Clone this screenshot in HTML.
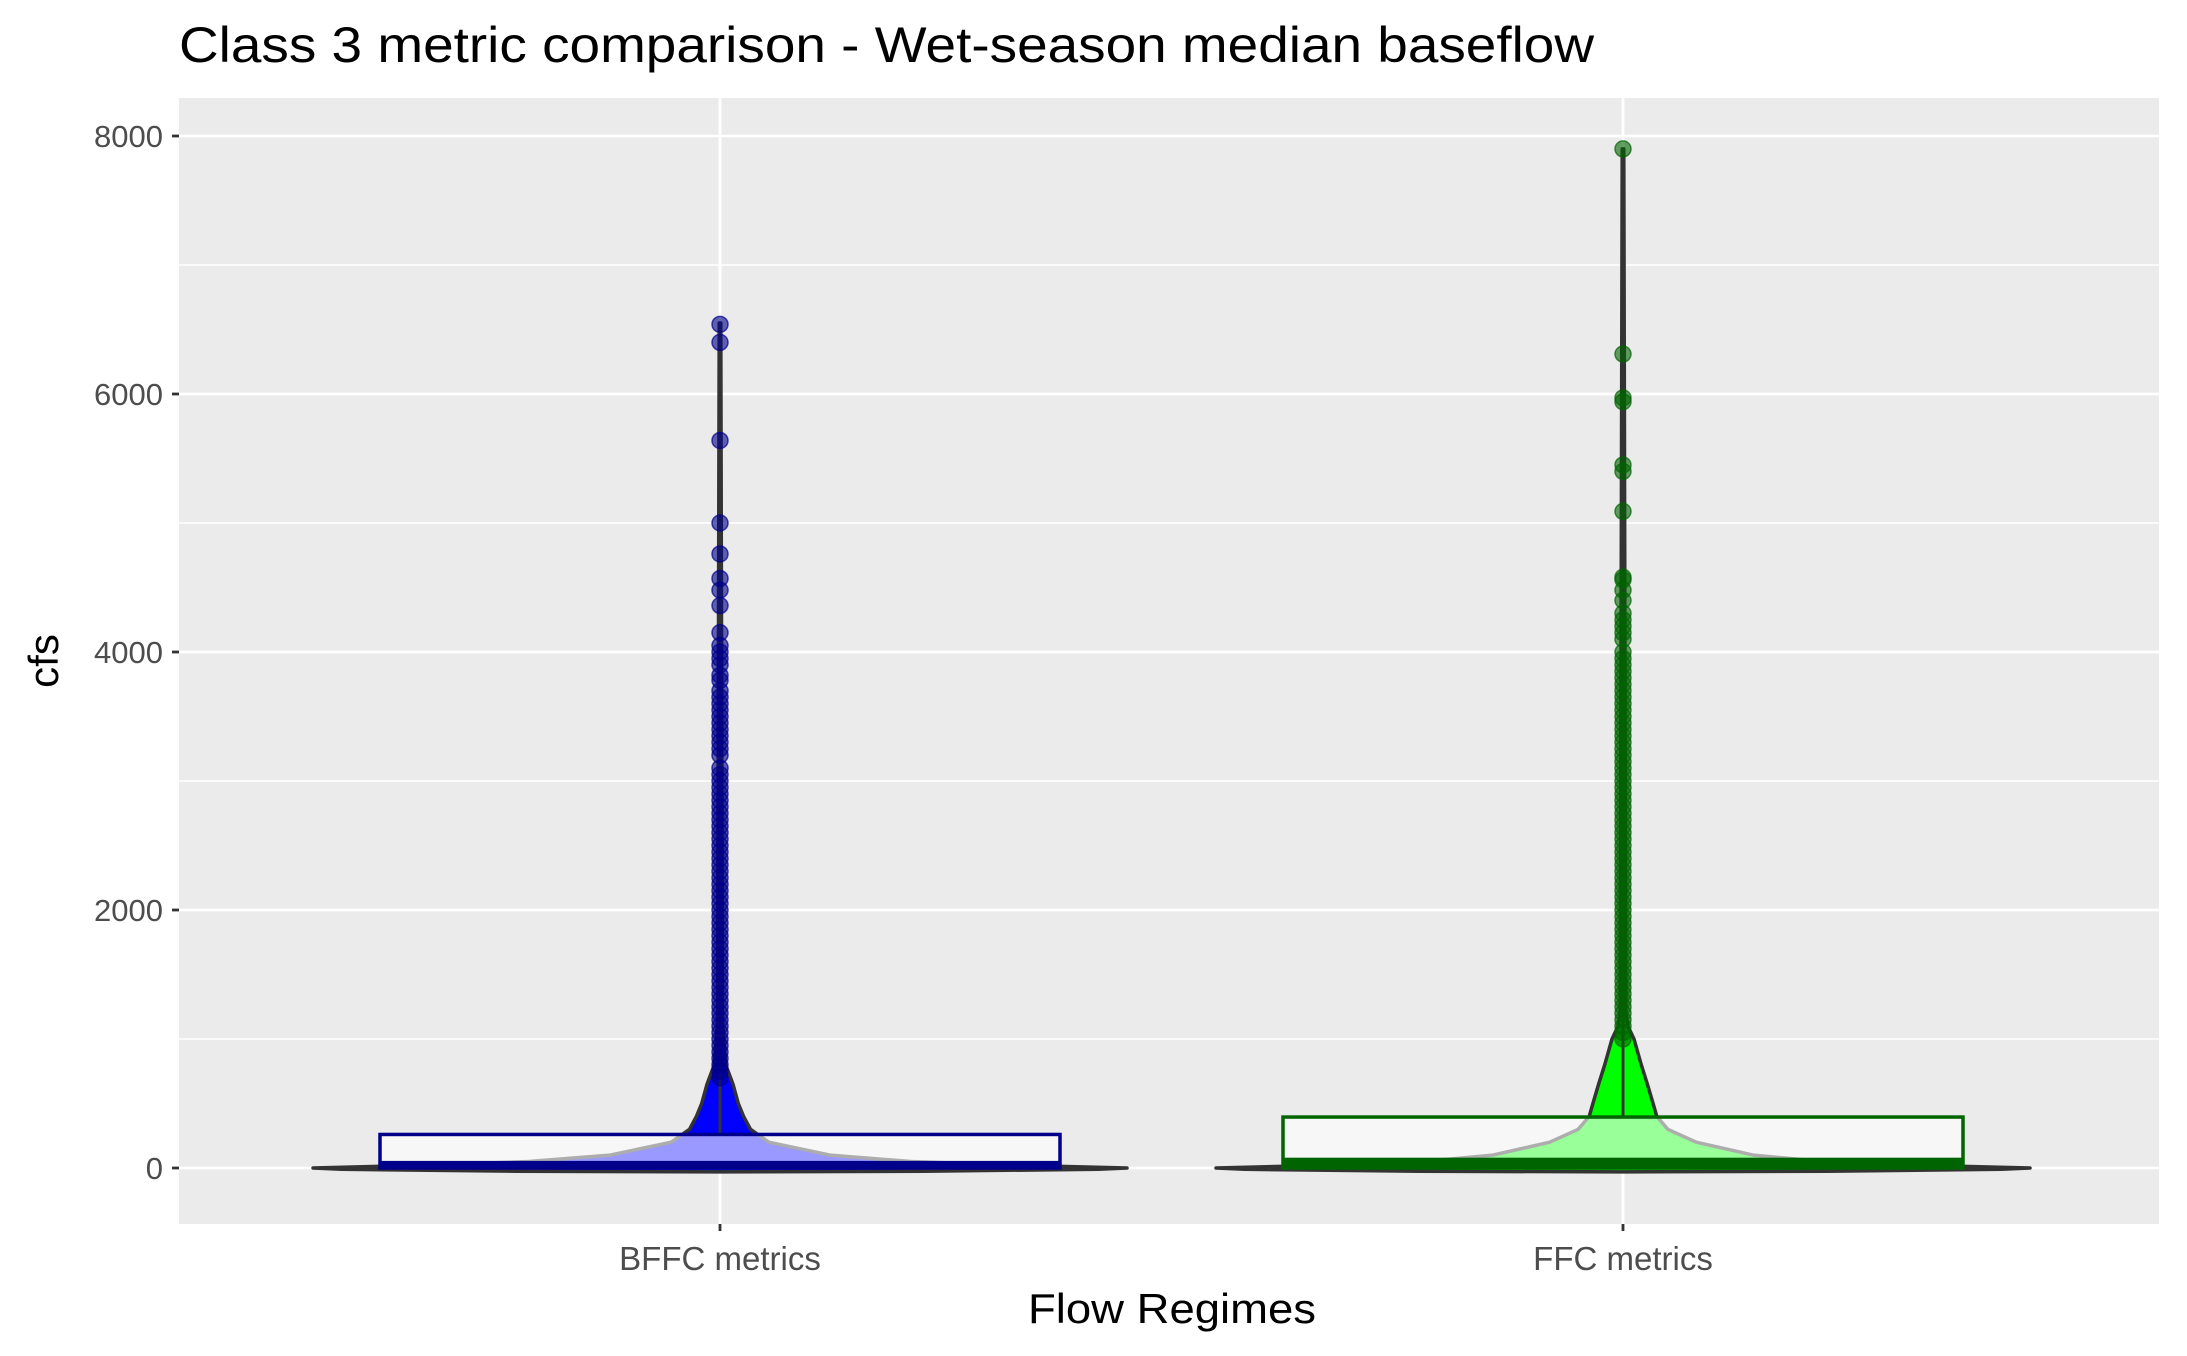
<!DOCTYPE html>
<html><head><meta charset="utf-8"><style>
html,body{margin:0;padding:0;background:#fff}
svg text{font-family:"Liberation Sans",sans-serif}
</style></head><body>
<svg id="chart" width="2187" height="1351" viewBox="0 0 2187 1351" xmlns="http://www.w3.org/2000/svg">
<rect x="179" y="98" width="1980" height="1126" fill="#ebebeb"/>
<g id="grid"></g>
<g id="marks"></g>
<g id="axes"></g>
<text x="179" y="62" font-size="50" textLength="1415" lengthAdjust="spacingAndGlyphs" fill="#000">Class 3 metric comparison - Wet-season median baseflow</text>
<text x="1172" y="1323" font-size="42" text-anchor="middle" textLength="288" lengthAdjust="spacingAndGlyphs" fill="#000">Flow Regimes</text>
<text x="0" y="0" font-size="42" text-anchor="middle" fill="#000" transform="translate(58,661) rotate(-90)">cfs</text>
</svg>
<script>
const categories = ["BFFC metrics","FFC metrics"];
const yTicks = [0,2000,4000,6000,8000];
const yMinor = [1000,3000,5000,7000];
const boxQ1 = [5,5];
const boxMedian = [55,80];
const boxQ3 = [260,395];
const maxVal = [6550,7900];
const densVals = [-25,-10,0,20,50,100,200,300,400,500,650,800,1000,1100,1200];
const densBFFC = [0.5,0.93,1,0.74,0.47,0.27,0.12,0.075,0.058,0.045,0.032,0.014,0.009,0.007,0.006];
const densFFC = [0.5,0.93,1,0.74,0.49,0.32,0.18,0.11,0.083,0.074,0.06,0.045,0.027,0.012,0.007];
const outBFFC = [6540,6400,5640,5000,4760,4570,4480,4360,4150,4050,4000,3950,3900,3820,3780,3700,3650,3600,3550,3500,3450,3400,3350,3300,3250,3200,3100,3050,3000,2950,2900,2850,2800,2750,2700,2650,2600,2550,2500,2450,2400,2350,2300,2250,2200,2150,2100,2050,2000,1950,1900,1850,1800,1750,1700,1650,1600,1550,1500,1450,1400,1350,1300,1250,1200,1150,1100,1050,1000,950,900,850,800,750,700];
const outFFC = [7900,6310,5970,5940,5450,5400,5090,4580,4560,4480,4400,4300,4250,4200,4150,4100,4000,3950,3900,3850,3800,3750,3700,3650,3600,3550,3500,3450,3400,3350,3300,3250,3200,3150,3100,3050,3000,2950,2900,2850,2800,2750,2700,2650,2600,2550,2500,2450,2400,2350,2300,2250,2200,2150,2100,2050,2000,1950,1900,1850,1800,1750,1700,1650,1600,1550,1500,1450,1400,1350,1300,1250,1200,1150,1100,1050,1000];

const NS="http://www.w3.org/2000/svg";
const xPos = i => [720,1623][i];
const y = v => 1168 - v*0.1290;
const maxHalf = 407;
function mk(tag, attrs, parent){const e=document.createElementNS(NS,tag);for(const k in attrs)e.setAttribute(k,attrs[k]);parent.appendChild(e);return e;}
const grid=document.getElementById('grid'), marks=document.getElementById('marks'), axes=document.getElementById('axes');

yMinor.forEach(v=>{const l=mk('line',{x1:179,x2:2159,y1:y(v),y2:y(v),stroke:'#fff','stroke-width':1.4},grid);

});
yTicks.forEach(v=>{const l=mk('line',{x1:179,x2:2159,y1:y(v),y2:y(v),stroke:'#fff','stroke-width':2.8},grid);


const t=mk('line',{x1:172,x2:179,y1:y(v),y2:y(v),stroke:'#333','stroke-width':2.8},axes);


const tx=mk('text',{x:163,y:y(v)+11,'font-size':31,'text-anchor':'end',fill:'#4d4d4d'},axes);tx.textContent=v;

});
categories.forEach((c,i)=>{const l=mk('line',{x1:xPos(i),x2:xPos(i),y1:98,y2:1224,stroke:'#fff','stroke-width':2.8},grid);


const t=mk('line',{x1:xPos(i),x2:xPos(i),y1:1224,y2:1231,stroke:'#333','stroke-width':2.8},axes);


const tx=mk('text',{x:xPos(i),y:1270,'font-size':33,'text-anchor':'middle',fill:'#4d4d4d'},axes);tx.textContent=c;

});

const fills=['#0000ff','#00ff00'], dark=['#00008b','#006400'];
[densBFFC,densFFC].forEach((dens,i)=>{
  const cx=xPos(i);
  const vals=densVals.concat([maxVal[i]]), ds=dens.concat([0.002]);
  let right=vals.map((v,k)=>[cx+ds[k]*maxHalf,y(v)]);
  let left=vals.map((v,k)=>[cx-ds[k]*maxHalf,y(v)]).reverse();
  const all=right.concat(left);
  let d='M'+cx+','+y(-30).toFixed(1)+' ';
  all.forEach(p=>d+='L'+p[0].toFixed(1)+','+p[1].toFixed(1)+' ');
  d+='Z';
  const vp=mk('path',{d:d,fill:fills[i],stroke:'#333','stroke-width':3.5,'stroke-linejoin':'round'},marks);
  
  
  const w=mk('line',{x1:cx,x2:cx,y1:y(boxQ3[i]),y2:y(maxVal[i]),stroke:'#333','stroke-width':3},marks);
  
  
  const bx=mk('rect',{x:cx-340,y:y(boxQ3[i]),width:680,height:y(0)-y(boxQ3[i]),fill:'rgba(255,255,255,0.6)',stroke:dark[i],'stroke-width':3.5},marks);
  
  
  const md=mk('rect',{x:cx-340,y:y(boxMedian[i]),width:680,height:y(boxQ1[i])-y(boxMedian[i]),fill:dark[i]},marks);
  
  
  const pts2=[outBFFC,outFFC][i];
  pts2.forEach(v=>{const c=mk('circle',{cx:cx,cy:y(v),r:8,fill:dark[i],'fill-opacity':0.6,stroke:dark[i],'stroke-opacity':0.7,'stroke-width':1.5},marks);
  
  });
});
</script>
</body></html>
